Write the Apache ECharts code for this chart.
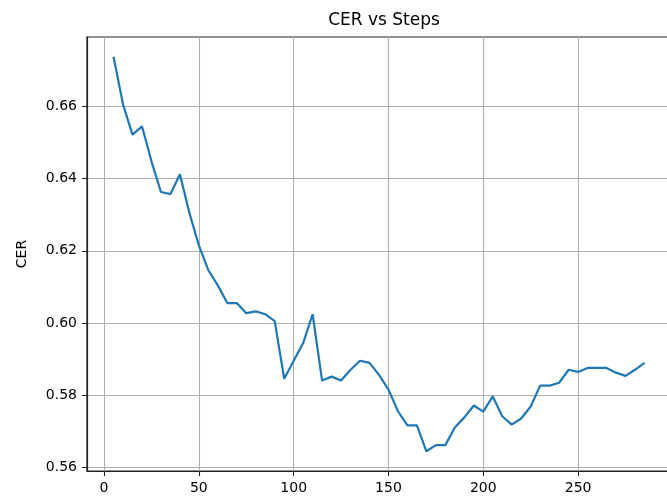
<!DOCTYPE html>
<html>
<head>
<meta charset="utf-8">
<title>CER vs Steps</title>
<script src="https://cdn.jsdelivr.net/npm/echarts@6/dist/echarts.min.js"></script>
<style>
  html, body { margin: 0; padding: 0; background: #fff; }
  #chart { width: 667px; height: 500px; }
</style>
</head>
<body>
<div id="chart"></div>
<script>
// Evaluation steps and the character error rate measured at each one
const steps = [
  5, 10, 15, 20, 25, 30, 35, 40, 45, 50,
  55, 60, 65, 70, 75, 80, 85, 90, 95, 100,
  105, 110, 115, 120, 125, 130, 135, 140, 145, 150,
  155, 160, 165, 170, 175, 180, 185, 190, 195, 200,
  205, 210, 215, 220, 225, 230, 235, 240, 245, 250,
  255, 260, 265, 270, 275, 280, 285
];
const cer = [
  0.6738, 0.6606, 0.6522, 0.6545, 0.6448, 0.6363, 0.6357, 0.6412, 0.6305, 0.6215,
  0.6146, 0.6104, 0.6055, 0.6055, 0.6027, 0.6032, 0.6024, 0.6005, 0.5845, 0.5895,
  0.5944, 0.6024, 0.5840, 0.5851, 0.5840, 0.5870, 0.5895, 0.5889, 0.5856, 0.5815,
  0.5755, 0.5716, 0.5716, 0.5644, 0.5661, 0.5661, 0.5710, 0.5738, 0.5771, 0.5754,
  0.5796, 0.5741, 0.5718, 0.5735, 0.5768, 0.5826, 0.5826, 0.5834, 0.5870, 0.5864,
  0.5875, 0.5875, 0.5875, 0.5862, 0.5853, 0.5870, 0.5889
];

// Tick positions for each axis
const xTicks = [0, 50, 100, 150, 200, 250];
const yTicks = [0.56, 0.58, 0.60, 0.62, 0.64, 0.66];

// Axis limits padded by 5% of the data span on each side
function padded(values) {
  const lo = Math.min(...values), hi = Math.max(...values);
  const m = (hi - lo) * 0.05;
  return [lo - m, hi + m];
}
const [xMin, xMax] = padded(steps);
const [yMin, yMax] = padded(cer);

const FONT = 'DejaVu Sans';
const chart = echarts.init(document.getElementById('chart'), null, { renderer: 'canvas' });

chart.setOption({
  animation: false,
  backgroundColor: '#ffffff',
  title: {
    text: 'CER vs Steps',
    left: 379,
    textAlign: 'center',
    top: 7,
    textStyle: { fontFamily: FONT, fontSize: 17, fontWeight: 'normal', color: '#000' }
  },
  grid: {
    left: 87, top: 37, width: 584, bottom: 29,
    containLabel: false,
    outerBoundsMode: 'none',
    show: true, borderColor: '#222', borderWidth: 1.2, backgroundColor: 'transparent'
  },
  xAxis: {
    type: 'value',
    min: xMin, max: xMax,
    axisLine: { show: true, onZero: false, lineStyle: { color: '#222', width: 1.2 } },
    axisTick: { show: true, length: 5, customValues: xTicks, lineStyle: { color: '#222', width: 1.1 } },
    axisLabel: {
      customValues: xTicks, margin: 10,
      fontFamily: FONT, fontSize: 14, color: '#000',
      formatter: v => String(Math.round(v))
    },
    splitLine: { show: true, lineStyle: { color: '#b0b0b0', width: 1.1 } }
  },
  yAxis: {
    type: 'value',
    min: yMin, max: yMax,
    name: 'CER',
    nameLocation: 'middle',
    nameGap: 58,
    nameRotate: 90,
    nameTextStyle: { fontFamily: FONT, fontSize: 14, color: '#000' },
    axisLine: { show: true, onZero: false, lineStyle: { color: '#222', width: 1.2 } },
    axisTick: { show: true, length: 5, customValues: yTicks, lineStyle: { color: '#222', width: 1.1 } },
    axisLabel: {
      customValues: yTicks, margin: 10,
      fontFamily: FONT, fontSize: 14, color: '#000',
      formatter: v => v.toFixed(2)
    },
    splitLine: { show: true, lineStyle: { color: '#b0b0b0', width: 1.1 } }
  },
  series: [{
    type: 'line',
    data: steps.map((s, i) => [s, cer[i]]),
    showSymbol: false,
    symbol: 'none',
    lineStyle: { color: '#1f77b4', width: 2.2 },
    itemStyle: { color: '#1f77b4' },
    clip: true
  }]
});
</script>
</body>
</html>
